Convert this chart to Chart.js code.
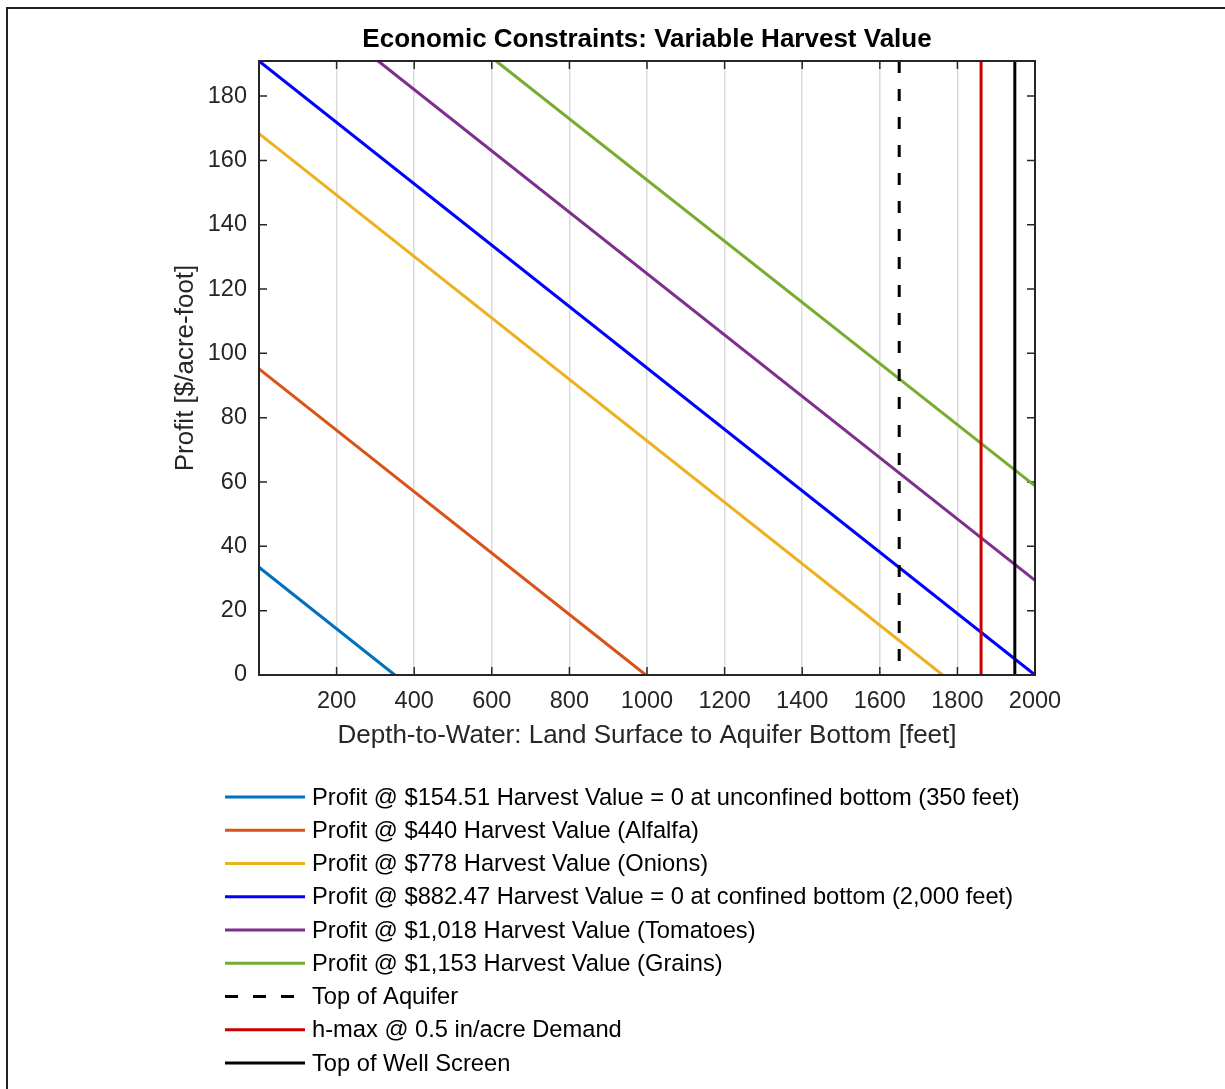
<!DOCTYPE html>
<html>
<head>
<meta charset="utf-8">
<script src="https://cdn.jsdelivr.net/npm/chart.js@4.4.1/dist/chart.umd.min.js"></script>
<style>
  html, body { margin: 0; padding: 0; background: #ffffff; }
  #wrap { width: 1225px; height: 1089px; position: relative; }
</style>
</head>
<body>
<div id="wrap"><canvas id="c" width="1225" height="1089"></canvas></div>
<script>
// ---- data ----
const chartTitle = "Economic Constraints: Variable Harvest Value";
const xAxisTitle = "Depth-to-Water: Land Surface to Aquifer Bottom [feet]";
const yAxisTitle = "Profit [$/acre-foot]";

const xMin = 0, xMax = 2000, xStep = 200;
const yMin = 0, yMax = 190.9, yStep = 20;

const seriesLabels = [
  "Profit @ $154.51 Harvest Value = 0 at unconfined bottom (350 feet)",
  "Profit @ $440 Harvest Value (Alfalfa)",
  "Profit @ $778 Harvest Value (Onions)",
  "Profit @ $882.47 Harvest Value = 0 at confined bottom (2,000 feet)",
  "Profit @ $1,018 Harvest Value (Tomatoes)",
  "Profit @ $1,153 Harvest Value (Grains)",
  "Top of Aquifer",
  "h-max @ 0.5 in/acre Demand",
  "Top of Well Screen"
];

// profit lines: depth (x) and profit (y) end points
const xUnconfined = [0, 350];    const yUnconfined = [33.5, 0];
const xAlfalfa    = [0, 997];    const yAlfalfa    = [95.2, 0];
const xOnions     = [0, 1762];   const yOnions     = [168.3, 0];
const xConfined   = [0, 2000];   const yConfined   = [190.9, 0];
const xTomatoes   = [307, 2000]; const yTomatoes   = [190.9, 29.4];
const xGrains     = [611, 2000]; const yGrains     = [190.9, 58.8];

// vertical reference depths (feet)
const topOfAquifer = 1650;
const hMaxDepth = 1861;
const topOfWellScreen = 1948;

// ---- styles ----
const seriesColors = ["#0072BD", "#D95319", "#EDB120", "#0000FF", "#7E2F8E", "#77AC30", "#000000", "#CC0000", "#000000"];
const seriesDash = [[], [], [], [], [], [], [12, 16], [], []];

function pts(xs, ys) { return xs.map((x, i) => ({ x: x, y: ys[i] })); }
function vline(x) { return [{ x: x, y: yMax }, { x: x, y: yMin }]; }

const seriesData = [
  pts(xUnconfined, yUnconfined),
  pts(xAlfalfa, yAlfalfa),
  pts(xOnions, yOnions),
  pts(xConfined, yConfined),
  pts(xTomatoes, yTomatoes),
  pts(xGrains, yGrains),
  vline(topOfAquifer),
  vline(hMaxDepth),
  vline(topOfWellScreen)
];

const datasets = seriesData.map((d, i) => ({
  label: seriesLabels[i],
  data: d,
  borderColor: seriesColors[i],
  backgroundColor: seriesColors[i],
  borderWidth: 3,
  borderDash: seriesDash[i],
  pointRadius: 0,
  tension: 0,
  fill: false,
  order: -i
}));

const FONT = "'Liberation Sans', Arial, Helvetica, sans-serif";
const AXC = "#262626";

const framePlugin = {
  id: 'frame',
  beforeDatasetsDraw(chart) {
    const { ctx, chartArea: a, scales } = chart;
    ctx.save();
    ctx.strokeStyle = AXC;
    ctx.lineWidth = 1.5;
    const tl = 8;
    ctx.beginPath();
    scales.x.ticks.forEach(t => {
      const px = scales.x.getPixelForValue(t.value);
      if (px <= a.left + 1 || px >= a.right - 1) return;
      ctx.moveTo(px, a.bottom); ctx.lineTo(px, a.bottom - tl);
      ctx.moveTo(px, a.top); ctx.lineTo(px, a.top + tl);
    });
    scales.y.ticks.forEach(t => {
      const py = scales.y.getPixelForValue(t.value);
      if (py <= a.top + 1 || py >= a.bottom - 1) return;
      ctx.moveTo(a.left, py); ctx.lineTo(a.left + tl, py);
      ctx.moveTo(a.right, py); ctx.lineTo(a.right - tl, py);
    });
    ctx.stroke();
    ctx.restore();
  },
  afterDatasetsDraw(chart) {
    const { ctx, chartArea: a } = chart;
    ctx.save();
    ctx.strokeStyle = AXC;
    ctx.lineWidth = 2;
    ctx.strokeRect(a.left, a.top, a.right - a.left, a.bottom - a.top);
    ctx.restore();
  },
  afterDraw(chart) {
    const { ctx, chartArea: a } = chart;
    ctx.save();
    // outer figure border (top and left)
    ctx.strokeStyle = "#222222";
    ctx.lineWidth = 2;
    ctx.beginPath();
    ctx.moveTo(7, 1089); ctx.lineTo(7, 8); ctx.lineTo(1225, 8);
    ctx.stroke();
    // title
    ctx.fillStyle = "#000000";
    ctx.font = "bold 26px " + FONT;
    ctx.textAlign = "center";
    ctx.textBaseline = "middle";
    ctx.fillText(chartTitle, (a.left + a.right) / 2, 40);
    // legend
    const x0 = 225, x1 = 305, tx = 312, y0 = 797, dy = 33.25;
    ctx.font = "23.7px " + FONT;
    ctx.textAlign = "left";
    ctx.textBaseline = "middle";
    chart.data.datasets.forEach((ds, i) => {
      const y = y0 + i * dy;
      ctx.beginPath();
      ctx.strokeStyle = ds.borderColor;
      ctx.lineWidth = 3;
      ctx.setLineDash(ds.borderDash && ds.borderDash.length ? [13, 15] : []);
      ctx.moveTo(x0, y); ctx.lineTo(x1, y);
      ctx.stroke();
      ctx.setLineDash([]);
      ctx.fillStyle = "#000000";
      ctx.fillText(ds.label, tx, y + 1);
    });
    ctx.restore();
  }
};

new Chart(document.getElementById('c'), {
  type: 'line',
  data: { datasets: datasets },
  options: {
    responsive: false,
    animation: false,
    devicePixelRatio: 1,
    layout: { padding: { left: 170, top: 61, right: 190, bottom: 1089 - 675 - 76 } },
    plugins: { legend: { display: false }, tooltip: { enabled: false }, title: { display: false } },
    scales: {
      x: {
        type: 'linear',
        min: xMin, max: xMax,
        afterFit(s) { s.height = 76; },
        ticks: {
          stepSize: xStep, autoSkip: false, maxRotation: 0, includeBounds: false,
          color: AXC, font: { family: FONT, size: 23.5 }, padding: 12,
          callback: v => (v === 0 ? '' : String(v))
        },
        grid: { drawTicks: false, color: 'rgba(0,0,0,0.14)', lineWidth: 1.5 },
        border: { display: false },
        title: { display: true, text: xAxisTitle, color: AXC, font: { family: FONT, size: 26 }, padding: { top: 0, bottom: 0 } }
      },
      y: {
        type: 'linear',
        min: yMin, max: yMax,
        afterFit(s) { s.width = 259 - 170; },
        ticks: {
          stepSize: yStep, includeBounds: false,
          color: AXC, font: { family: FONT, size: 23.5 }, padding: 12
        },
        grid: { display: false, drawTicks: false },
        border: { display: false },
        title: { display: true, text: yAxisTitle, color: AXC, font: { family: FONT, size: 26 }, padding: { top: 0, bottom: 0 } }
      }
    }
  },
  plugins: [framePlugin]
});
</script>
</body>
</html>
